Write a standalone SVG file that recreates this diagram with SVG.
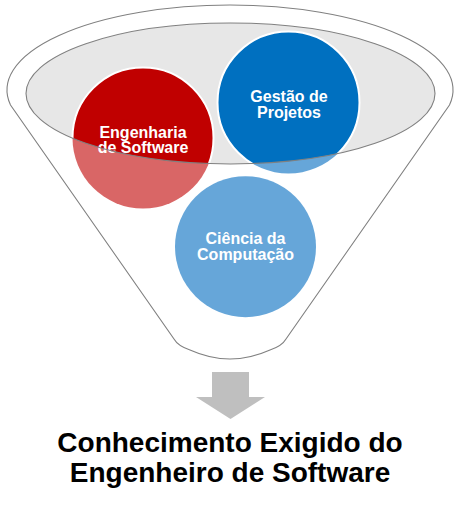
<svg xmlns="http://www.w3.org/2000/svg" width="460" height="508" viewBox="0 0 460 508">
<style>
.ln{fill:none;stroke:#808080;stroke-width:1.1}
.lbl{font-family:"Liberation Sans",Arial,Helvetica,sans-serif;font-weight:bold;font-size:16px;fill:#ffffff;text-anchor:middle}
.ttl{font-family:"Liberation Sans",Arial,Helvetica,sans-serif;font-weight:bold;font-size:28px;fill:#000000;text-anchor:middle}
.ring{stroke:#ffffff;stroke-width:2}
</style>
<defs>
<clipPath id="topClip"><ellipse cx="230.5" cy="93.5" rx="204.5" ry="70.5"/></clipPath>
</defs>
<rect width="460" height="508" fill="#ffffff"/>
<g id="funnel">
<path d="M 10.5 105 A 223 85 0 1 1 449.5 105 L 286 339 Q 282 346 270 350 Q 230 368 190 350 Q 178 346 174 339 Z" fill="#ffffff" stroke="#808080" stroke-width="1.1"/>
<ellipse cx="230.5" cy="93.5" rx="204.5" ry="70.5" fill="#e7e7e7"/>
</g>
<g id="node-engenharia">
<circle cx="143" cy="138" r="70.5" fill="#d96666"/>
<circle class="ring" cx="143" cy="138" r="70.5" fill="#c00000" clip-path="url(#topClip)"/>
<text class="lbl" x="143" y="137.5">Engenharia</text>
<text class="lbl" x="143" y="153">de Software</text>
</g>
<g id="node-gestao">
<circle cx="288.5" cy="102.5" r="71" fill="#66a6d9"/>
<circle class="ring" cx="288.5" cy="102.5" r="71" fill="#0070c0" clip-path="url(#topClip)"/>
<text class="lbl" x="289" y="101.7">Gestão de</text>
<text class="lbl" x="289" y="117.7">Projetos</text>
</g>
<g id="node-ciencia">
<circle cx="245.5" cy="246.7" r="70.5" fill="#66a6d9"/>
<text class="lbl" x="245.5" y="244">Ciência da</text>
<text class="lbl" x="245.5" y="260">Computação</text>
</g>
<g id="funnel-rim">
<ellipse class="ln" cx="230.5" cy="93.5" rx="204.5" ry="70.5"/>
</g>
<g id="connectors">
<polygon points="212,372 249,372 249,397 265,397 230.5,419 196,397 212,397" fill="#bfbfbf"/>
</g>
<g id="node-title">
<text class="ttl" x="230" y="452">Conhecimento Exigido do</text>
<text class="ttl" x="230" y="481.5">Engenheiro de Software</text>
</g>
</svg>
